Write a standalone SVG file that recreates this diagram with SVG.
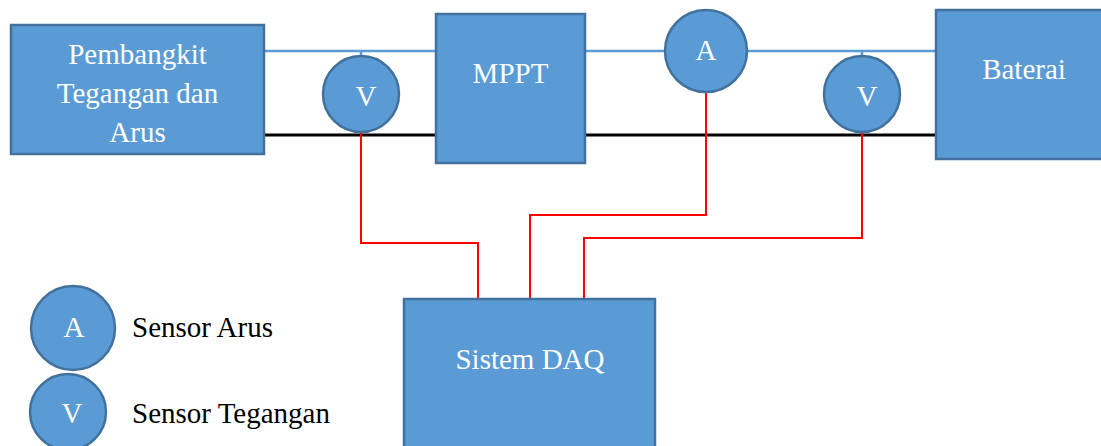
<svg xmlns="http://www.w3.org/2000/svg" width="1101" height="446" viewBox="0 0 1101 446">
<style>
.box{fill:#5B9BD5;stroke:#41719C;stroke-width:2.5}
.t{fill:#fff;text-anchor:middle}
.lt{fill:#000}
.blue{stroke:#5B9BD5;stroke-width:2.5;fill:none}
.black{stroke:#000;stroke-width:3;fill:none}
.red{stroke:#FF0000;stroke-width:2;fill:none}
</style>
<rect width="1101" height="446" fill="#fff"/>
<g id="connectors">
<path class="blue" d="M264 51H436M585 51H665M747 51H936M361 51V57M862 51V57"/>
<path class="black" d="M264 135H436M585 135H936"/>
<path class="red" d="M361 132V243H478V299"/>
<path class="red" d="M706 92V215H530V299"/>
<path class="red" d="M862 132V238H584V299"/>
</g>
<g font-family="Liberation Serif" font-size="29">
<g id="pembangkit">
<rect class="box" x="11" y="25" width="253" height="129"/>
<text class="t" x="137.5" y="64">Pembangkit</text>
<text class="t" x="137.5" y="103">Tegangan dan</text>
<text class="t" x="137.5" y="142">Arus</text>
</g>
<g id="mppt">
<rect class="box" x="436" y="14" width="149" height="149"/>
<text class="t" x="510.5" y="83">MPPT</text>
</g>
<g id="baterai">
<rect class="box" x="936" y="10" width="178" height="149"/>
<text class="t" x="1024" y="79">Baterai</text>
</g>
<g id="sensor-v1">
<circle class="box" cx="361" cy="94" r="38"/>
<text class="t" x="366" y="106">V</text>
</g>
<g id="sensor-a">
<circle class="box" cx="706" cy="51" r="41"/>
<text class="t" x="706" y="60">A</text>
</g>
<g id="sensor-v2">
<circle class="box" cx="862" cy="94" r="38"/>
<text class="t" x="867" y="106">V</text>
</g>
<g id="daq">
<rect class="box" x="404" y="299" width="251" height="160"/>
<text class="t" x="530" y="369">Sistem DAQ</text>
</g>
<g id="legend-a">
<circle class="box" cx="73" cy="328" r="42"/>
<text class="t" x="74" y="337">A</text>
<text class="lt" x="132" y="337">Sensor Arus</text>
</g>
<g id="legend-v">
<circle class="box" cx="68" cy="412" r="38"/>
<text class="t" x="72" y="423">V</text>
<text class="lt" x="132" y="423">Sensor Tegangan</text>
</g>
</g>
</svg>
